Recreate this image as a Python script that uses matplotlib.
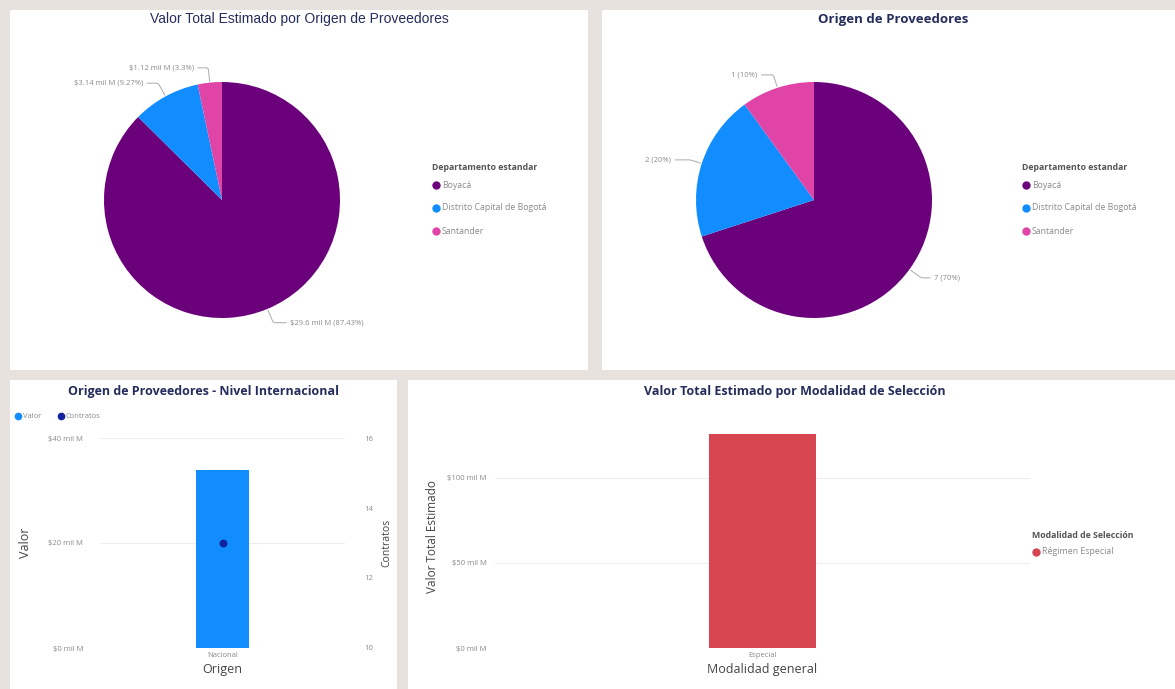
import numpy as np
import matplotlib
matplotlib.use("Agg")
import matplotlib.pyplot as plt
from matplotlib.patches import Rectangle
from matplotlib.lines import Line2D

plt.rcParams['font.family'] = ['Open Sans', 'DejaVu Sans']

W, H = 1175, 689

# data
departamentos = ["Boyacá", "Distrito Capital de Bogotá", "Santander"]
valor_mil_m = [29.6, 3.14, 1.12]
valor_pct = ["87.43", "9.27", "3.3"]
contratos_dep = [7, 2, 1]
colores_dep = ["#6B007B", "#118DFF", "#E044A7"]

origen = ["Nacional"]
origen_valor = [33.86]
origen_contratos = [13]

modalidad = ["Especial"]
modalidad_valor = [126]
modalidad_leyenda = ["Régimen Especial"]

TITLE = "#252D5C"
GRAY = "#8A8A8A"
DARK = "#444444"


def box(x, y, w, h):
    return [x / W, 1 - (y + h) / H, w / W, h / H]


def fx(x):
    return x / W


def fy(y):
    return 1 - y / H


fig = plt.figure(figsize=(W / 100, H / 100), dpi=100)
fig.patch.set_facecolor('#E7E2DE')

for (x, y, w, h) in [(10, 10, 578, 360), (602, 10, 573, 360),
                     (10, 380, 387, 309), (408, 380, 767, 309)]:
    fig.add_artist(Rectangle((fx(x), fy(y + h)), w / W, h / H, transform=fig.transFigure,
                             facecolor='white', edgecolor='none', zorder=-5))


def pie_panel(cx, cy, values, labels, text_pos, legend_x):
    r = 118
    ax = fig.add_axes(box(cx - r, cy - r, 2 * r, 2 * r))
    ax.pie(values, colors=colores_dep, startangle=90, counterclock=False,
           wedgeprops=dict(linewidth=0))
    ax.set_xlim(-1, 1)
    ax.set_ylim(-1, 1)
    total = sum(values)
    cum = np.cumsum(values)
    for v, c, lab, (tx, ty) in zip(values, cum, labels, text_pos):
        theta = np.deg2rad(90 - 360 * (c - v / 2) / total)
        px, py = np.cos(theta), np.sin(theta)
        left = tx < 0
        ax.annotate(lab, xy=(px, py), xytext=(tx, ty), fontsize=5.5, color=GRAY,
                    ha='right' if left else 'left', va='center', annotation_clip=False,
                    arrowprops=dict(arrowstyle='-', color='#AAAAAA', lw=0.7,
                                    shrinkA=1, shrinkB=1,
                                    relpos=(1, 0.5) if left else (0, 0.5),
                                    connectionstyle="angle,angleA=0,angleB=%d,rad=2"
                                    % (np.rad2deg(theta))))
    # legend
    fig.text(fx(legend_x), fy(167), "Departamento estandar", fontsize=6.3,
             fontweight='bold', color='#555555', va='center')
    for i, (name, col) in enumerate(zip(departamentos, colores_dep)):
        yy = 185 + i * 23
        fig.add_artist(Line2D([fx(legend_x + 4)], [fy(yy)], marker='o', markersize=5,
                              color=col, transform=fig.transFigure))
        fig.text(fx(legend_x + 10), fy(yy), name, fontsize=6.3, color=GRAY, va='center')
    return ax


# panel 1: valor por departamento
fig.text(fx(299), fy(19), "Valor Total Estimado por Origen de Proveedores",
         fontsize=10, color=TITLE, ha='center', va='center', family='Liberation Sans')
lab1 = ["$%s mil M (%s%%)" % (v, p) for v, p in zip(valor_mil_m, valor_pct)]
pie_panel(222, 200, valor_mil_m, lab1,
          [(0.58, -1.04), (-0.67, 0.99), (-0.24, 1.12)], 432)

# panel 2: contratos por departamento
fig.text(fx(893), fy(19), "Origen de Proveedores", fontsize=9.5, color=TITLE,
         ha='center', va='center', fontweight='bold')
lab2 = ["%d (%d%%)" % (v, round(100 * v / sum(contratos_dep))) for v in contratos_dep]
pie_panel(814, 200, contratos_dep, lab2,
          [(1.02, -0.66), (-1.21, 0.34), (-0.48, 1.06)], 1022)

# panel 3: nivel internacional
ax3 = fig.add_axes(box(100, 438, 245, 210))
ax3.bar(origen, origen_valor, width=0.22, color='#118DFF', zorder=2)
ax3.set_xlim(-0.5, 0.5)
ax3.set_ylim(0, 40)
ax3.set_yticks([0, 20, 40])
ax3.set_yticklabels(["$%d mil M" % t for t in [0, 20, 40]])
ax3.grid(axis='y', color='#EEEEEE', lw=0.8, zorder=0)
ax3b = ax3.twinx()
ax3b.scatter(range(len(origen)), origen_contratos, color='#12239E', s=22, zorder=3)
ax3b.set_ylim(10, 16)
ax3b.set_yticks([10, 12, 14, 16])
for a in (ax3, ax3b):
    for s in a.spines.values():
        s.set_visible(False)
    a.tick_params(length=0, labelsize=5.5, labelcolor=GRAY)
ax3.tick_params(axis='y', pad=12)
ax3b.tick_params(axis='y', pad=14)
ax3.tick_params(axis='x', pad=3)
ax3.set_xlabel("Origen", fontsize=9, color=DARK, labelpad=3)
ax3.set_ylabel("Valor", fontsize=9, color=DARK, labelpad=12)
ax3b.set_ylabel("Contratos", fontsize=7.5, color=DARK, labelpad=6)
fig.text(fx(203), fy(392), "Origen de Proveedores - Nivel Internacional", fontsize=9,
         color=TITLE, ha='center', va='center', fontweight='bold')
fig.add_artist(Line2D([fx(18)], [fy(416)], marker='o', markersize=4.5, color='#118DFF',
                      transform=fig.transFigure))
fig.text(fx(23), fy(416), "Valor", fontsize=5.5, color=GRAY, va='center')
fig.add_artist(Line2D([fx(61)], [fy(416)], marker='o', markersize=4.5, color='#12239E',
                      transform=fig.transFigure))
fig.text(fx(66), fy(416), "Contratos", fontsize=5.5, color=GRAY, va='center')

# panel 4: modalidad de seleccion
ax4 = fig.add_axes(box(495, 425, 535, 223))
ax4.bar(modalidad, modalidad_valor, width=0.2, color='#D64550', zorder=2)
ax4.set_xlim(-0.5, 0.5)
ax4.set_ylim(0, 131)
ax4.set_yticks([0, 50, 100])
ax4.set_yticklabels(["$%d mil M" % t for t in [0, 50, 100]])
ax4.grid(axis='y', color='#EEEEEE', lw=0.8, zorder=0)
for s in ax4.spines.values():
    s.set_visible(False)
ax4.tick_params(length=0, labelsize=5.5, labelcolor=GRAY)
ax4.tick_params(axis='y', pad=6)
ax4.tick_params(axis='x', pad=3)
ax4.set_xlabel("Modalidad general", fontsize=9, color=DARK, labelpad=3)
ax4.set_ylabel("Valor Total Estimado", fontsize=8.5, color=DARK, labelpad=6)
fig.text(fx(795), fy(392), "Valor Total Estimado por Modalidad de Selección", fontsize=9,
         color=TITLE, ha='center', va='center', fontweight='bold')
fig.text(fx(1032), fy(536), "Modalidad de Selección", fontsize=6.3, fontweight='bold',
         color='#555555', va='center')
fig.add_artist(Line2D([fx(1036)], [fy(552)], marker='o', markersize=5, color='#D64550',
                      transform=fig.transFigure))
fig.text(fx(1042), fy(552), modalidad_leyenda[0], fontsize=6.3, color=GRAY, va='center')

fig.savefig("out.png", dpi=100, facecolor=fig.get_facecolor())
